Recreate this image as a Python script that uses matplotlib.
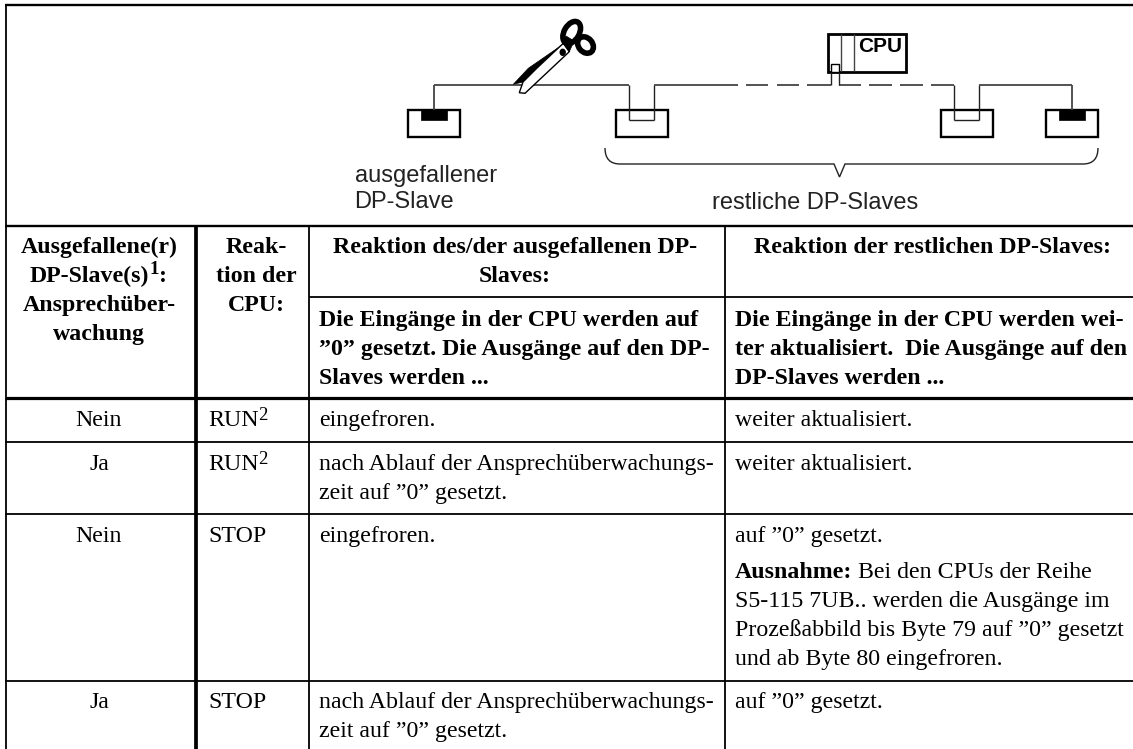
import matplotlib
matplotlib.use("Agg")
import matplotlib.pyplot as plt
from matplotlib.patches import Rectangle, Polygon, Ellipse, PathPatch
from matplotlib.path import Path

# table grid, in pixels of the scan
COL_X = [6, 196, 309, 725]
RIGHT = 1133
TOP_Y = 5
DIAGRAM_BOTTOM = 226
SUBHEAD_Y = 297
HEAD_BOTTOM = 398
ROW_Y = [442, 514, 681]
BOTTOM_Y = 749

HEAD_1 = ["Ausgefallene(r)", None, "Ansprechüber-", "wachung"]
HEAD_2 = ["Reak-", "tion der", "CPU:"]
HEAD_3 = ["Reaktion des/der ausgefallenen DP-", "Slaves:"]
HEAD_4 = "Reaktion der restlichen DP-Slaves:"
SUB_3 = ["Die Eingänge in der CPU werden auf", "”0” gesetzt. Die Ausgänge auf den DP-", "Slaves werden ..."]
SUB_4 = ["Die Eingänge in der CPU werden wei-", "ter aktualisiert.  Die Ausgänge auf den", "DP-Slaves werden ..."]

WATCHDOG = ["Nein", "Ja", "Nein", "Ja"]
CPU_STATE = ["RUN", "RUN", "STOP", "STOP"]
FOOTNOTE = [True, True, False, False]
FAILED = [["eingefroren."],
          ["nach Ablauf der Ansprechüberwachungs-", "zeit auf ”0” gesetzt."],
          ["eingefroren."],
          ["nach Ablauf der Ansprechüberwachungs-", "zeit auf ”0” gesetzt."]]
REMAINING = ["weiter aktualisiert.", "weiter aktualisiert.", "auf ”0” gesetzt.", "auf ”0” gesetzt."]
EXCEPTION = ["S5-115 7UB.. werden die Ausgänge im",
             "Prozeßabbild bis Byte 79 auf ”0” gesetzt", "und ab Byte 80 eingefroren."]

SERIF = "Liberation Serif"
SANS = "Liberation Sans"
SIZE = 17.2
SUP_SIZE = 13.5
LINE = 29
GREY = "#444444"
DARK = "#222222"

fig = plt.figure(figsize=(11.33, 7.49), dpi=100)
ax = fig.add_axes([0, 0, 1, 1])
ax.set_xlim(0, 1133)
ax.set_ylim(749, 0)
ax.axis("off")


def hline(y, x0, x1, lw=1.3, color="black"):
    ax.plot([x0, x1], [y, y], color=color, lw=lw, solid_capstyle="butt")


def vline(x, y0, y1, lw=1.3, color="black"):
    ax.plot([x, x], [y0, y1], color=color, lw=lw, solid_capstyle="butt")


def lines(x, y, rows, ha="left", weight="normal"):
    for i, row in enumerate(rows):
        if row is not None:
            ax.text(x, y + i * LINE, row, family=SERIF, size=SIZE, weight=weight, ha=ha, va="baseline")


def right_end(txt):
    # right edge of a text, in the pixel coordinates of the axes
    box = txt.get_window_extent(fig.canvas.get_renderer())
    return ax.transData.inverted().transform((box.x1, box.y0))[0]


# grid
hline(TOP_Y, COL_X[0] - 1, RIGHT, 1.7)
hline(DIAGRAM_BOTTOM, COL_X[0] - 1, RIGHT, 1.7)
hline(SUBHEAD_Y, COL_X[2], RIGHT, 1.3)
hline(HEAD_BOTTOM, COL_X[0] - 1, RIGHT, 2.3)
for y in ROW_Y:
    hline(y, COL_X[0] - 1, RIGHT, 1.3)
vline(COL_X[0], TOP_Y, BOTTOM_Y, 1.3)
vline(COL_X[1], DIAGRAM_BOTTOM, BOTTOM_Y, 2.7)
vline(COL_X[2], DIAGRAM_BOTTOM, BOTTOM_Y, 1.3)
vline(COL_X[3], DIAGRAM_BOTTOM, BOTTOM_Y, 1.3)

# table text
lines(99, 253, HEAD_1, "center", "bold")
slave = ax.text(30, 282, "DP-Slave(s)", family=SERIF, size=SIZE, weight="bold", va="baseline")
sup = ax.text(right_end(slave), 274.5, "1", family=SERIF, size=SUP_SIZE, weight="bold", va="baseline")
ax.text(right_end(sup), 282, ":", family=SERIF, size=SIZE, weight="bold", va="baseline")
lines(256, 253, HEAD_2, "center", "bold")
lines(515, 253, HEAD_3, "center", "bold")
lines(932, 253, [HEAD_4], "center", "bold")
lines(319, 326, SUB_3, weight="bold")
lines(735, 326, SUB_4, weight="bold")

row_base = [426, 470, 542, 708]
for i in range(4):
    lines(99, row_base[i], [WATCHDOG[i]], "center")
    state = ax.text(208, row_base[i], CPU_STATE[i], family=SERIF, size=SIZE, va="baseline")
    if FOOTNOTE[i]:
        ax.text(right_end(state), row_base[i] - 6.5, "2", family=SERIF, size=SUP_SIZE, va="baseline")
    lines(319, row_base[i], FAILED[i])
    lines(735, row_base[i], [REMAINING[i]])

ax.text(735, 578, "Ausnahme:", family=SERIF, size=SIZE, weight="bold", va="baseline")
ax.text(858, 578, "Bei den CPUs der Reihe", family=SERIF, size=SIZE, va="baseline")
lines(735, 607, EXCEPTION)

# diagram: bus line, solid up to the dashed part
hline(85, 434, 628.5, 1.3, GREY)
vline(434, 85, 110, 1.3, GREY)
vline(628.5, 85, 120, 1.0, DARK)
vline(654, 85, 120, 1.0, DARK)
hline(85, 654, 715, 1.3, GREY)
dashes = [(715, 738), (746, 768), (777, 799), (807, 831), (839, 861), (869, 892), (900, 923), (931, 953.5)]
for x0, x1 in dashes:
    hline(85, x0, x1, 1.3, GREY)
vline(831, 72, 85, 1.0, DARK)
vline(838.7, 72, 85, 1.0, DARK)
vline(953.5, 85, 120, 1.0, DARK)
vline(979.3, 85, 120, 1.0, DARK)
hline(85, 979.3, 1071.6, 1.3, GREY)
vline(1071.6, 85, 110, 1.3, GREY)

# slave boxes
for x in [408, 615.6, 940.6, 1046]:
    ax.add_patch(Rectangle((x, 110), 52, 26.5, fill=False, ec="black", lw=1.7))
for x in [421, 1058.7]:
    ax.add_patch(Rectangle((x, 110), 26, 10, fc="black", ec="black", lw=0.5))
for x in [628.5, 953.5]:
    hline(120, x, x + 25.7, 1.0, DARK)

# CPU box
ax.add_patch(Rectangle((828, 33.5), 78, 38.5, fill=False, ec="black", lw=2.0))
vline(841, 34, 71, 1.0, GREY)
vline(854, 34, 71, 1.0, GREY)
ax.add_patch(Rectangle((830.5, 63.5), 8.5, 8.5, fc="white", ec="black", lw=1.0, zorder=3))
ax.text(880.5, 47, "CPU", family=SANS, weight="bold", size=15, ha="center", va="center")

# scissors
ax.add_patch(Polygon([(513.3, 84.3), (528.3, 68.3), (563.5, 44), (560, 50), (536.7, 68.3), (523, 82)],
                     fc="black", ec="black", lw=0.5, zorder=4))
ax.add_patch(Polygon([(519.3, 92.7), (525, 93.3), (569.3, 51.7), (563.3, 43.3), (536.7, 68.3), (523, 82)],
                     fc="white", ec="black", lw=1.0, zorder=4))
ax.add_patch(Ellipse((571.7, 32.5), 15, 24, angle=30, fc="none", ec="black", lw=4.0, zorder=4))
ax.add_patch(Ellipse((585.5, 45), 14, 18, angle=-40, fc="none", ec="black", lw=4.0, zorder=4))
ax.add_patch(Polygon([(563, 43), (566, 36), (574, 41), (569.3, 51.7)], fc="black", ec="black", lw=0.5, zorder=4))
ax.add_patch(Ellipse((562.7, 52.3), 5, 6, fc="black", ec="black", zorder=5))

# brace under the remaining slaves
verts = [(605, 148), (605, 164), (620, 164),
         (834, 164), (839.5, 177), (845, 164),
         (1083, 164), (1098, 164), (1098, 148)]
codes = [Path.MOVETO, Path.CURVE3, Path.CURVE3,
         Path.LINETO, Path.LINETO, Path.LINETO,
         Path.LINETO, Path.CURVE3, Path.CURVE3]
ax.add_patch(PathPatch(Path(verts, codes), fill=False, ec=DARK, lw=1.0))

# diagram labels
ax.text(354.5, 182, "ausgefallener", family=SANS, size=17, va="baseline", color=DARK)
ax.text(354.5, 208, "DP-Slave", family=SANS, size=17, va="baseline", color=DARK)
ax.text(815, 209, "restliche DP-Slaves", family=SANS, size=17, ha="center", va="baseline", color=DARK)

fig.savefig("out.png", dpi=100, facecolor="white")
